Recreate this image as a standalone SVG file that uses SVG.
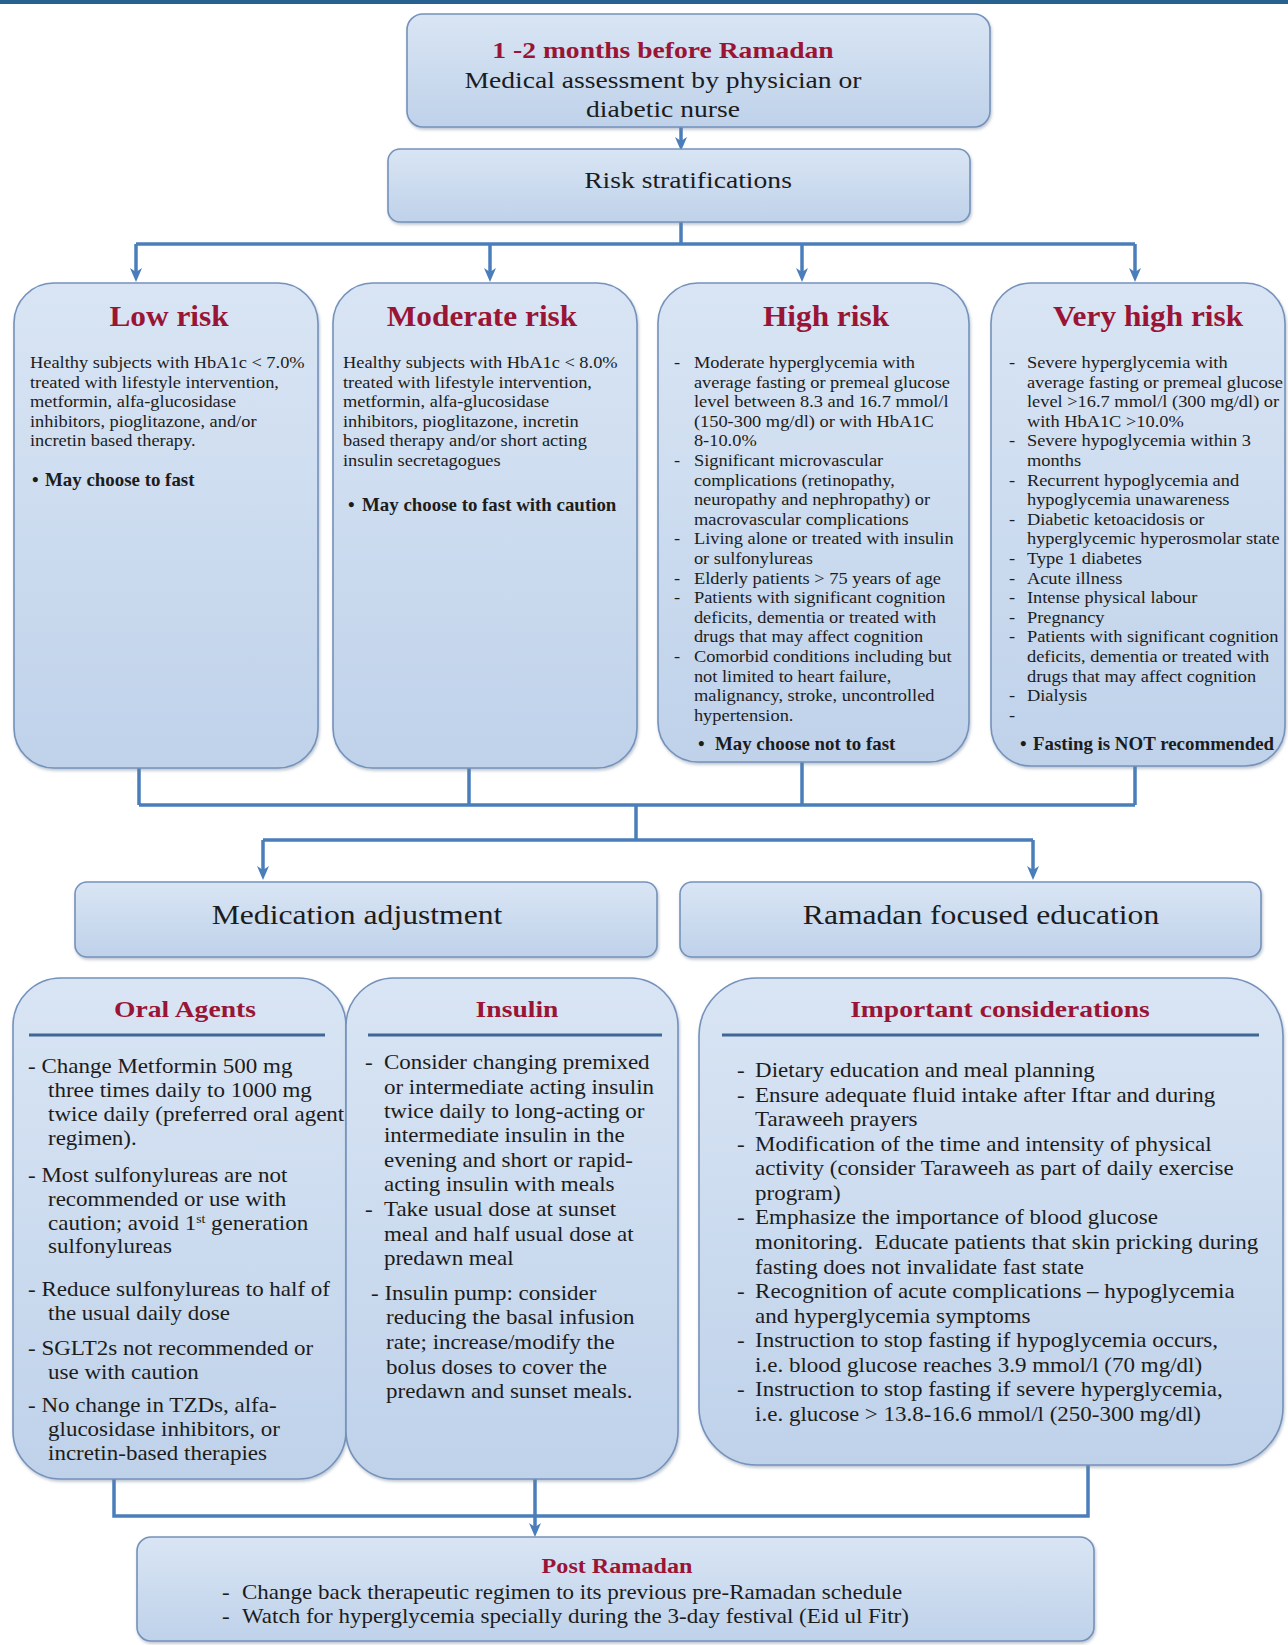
<svg xmlns="http://www.w3.org/2000/svg" width="1288" height="1645" viewBox="0 0 1288 1645">
<defs>
<linearGradient id="g" x1="0" y1="0" x2="0" y2="1">
<stop offset="0" stop-color="#d9e5f4"/>
<stop offset="1" stop-color="#bfd2ea"/>
</linearGradient>
<filter id="sh" x="-5%" y="-5%" width="110%" height="115%">
<feDropShadow dx="1" dy="2" stdDeviation="1.5" flood-color="#6f819c" flood-opacity="0.45"/>
</filter>
<marker id="ah" markerUnits="userSpaceOnUse" markerWidth="14" markerHeight="14" viewBox="0 0 14 14" refX="4" refY="7" orient="auto">
<path d="M0,1 L14,7 L0,13 L4,7 z" fill="#4a7ebb"/>
</marker>
<style>
.box{fill:url(#g);stroke:#7592bb;stroke-width:1.6;filter:url(#sh)}
.t{font-family:"Liberation Serif","Times New Roman",serif;fill:#1c1c1c}
.hd{font-size:24px}
.ttl{font-weight:bold;fill:#9a1535}
.rt{font-size:29px}
.rb{font-size:17.5px}
.rbb{font-size:18px;font-weight:bold}
.lb{font-size:20px}
.lt{font-size:24px}
.mid{font-size:27.5px}
.con{stroke:#4a7ebb;stroke-width:3.5;fill:none}
.ul{stroke:#3e6696;stroke-width:3}
</style>
</defs>
<rect x="0" y="0" width="1288" height="4" fill="#27618f"/>

<g id="connectors">
<path class="con" d="M681,127 V141" marker-end="url(#ah)"/>
<path class="con" d="M681,222 V244"/>
<path class="con" d="M136,244 H1135"/>
<path class="con" d="M136,244 V272" marker-end="url(#ah)"/>
<path class="con" d="M490,244 V272" marker-end="url(#ah)"/>
<path class="con" d="M802,244 V272" marker-end="url(#ah)"/>
<path class="con" d="M1135,244 V272" marker-end="url(#ah)"/>
<path class="con" d="M139,768 V805 M469,768 V805 M802,762 V805 M1135,766 V805 M139,805 H1135 M636,805 V840 M263,840 H1033"/>
<path class="con" d="M263,840 V870" marker-end="url(#ah)"/>
<path class="con" d="M1033,840 V870" marker-end="url(#ah)"/>
<path class="con" d="M114,1479 V1516 H1088 V1465"/>
<path class="con" d="M535,1479 V1527" marker-end="url(#ah)"/>
</g>

<g id="n-assess">
<rect class="box" x="407" y="14" width="583" height="113" rx="16"/>
<g transform="translate(663,0) scale(1.15,1)">
<text class="t hd ttl" x="0" y="58" text-anchor="middle">1 -2 months before Ramadan</text>
<text class="t hd" x="0" y="88" text-anchor="middle">Medical assessment by physician or</text>
<text class="t hd" x="0" y="117" text-anchor="middle">diabetic nurse</text>
</g>
</g>

<g id="n-risk">
<rect class="box" x="388" y="149" width="582" height="73" rx="12"/>
<g transform="translate(688,0) scale(1.15,1)">
<text class="t hd" x="0" y="188" text-anchor="middle">Risk stratifications</text>
</g>
</g>

<g id="n-low">
<rect class="box" x="14" y="283" width="304" height="485" rx="40"/>
<g transform="translate(169,0) scale(1.08,1)"><text class="t rt ttl" x="0" y="326" text-anchor="middle">Low risk</text></g>
<g transform="translate(30,0) scale(1.05,1)">
<text class="t rb" x="0" y="368">Healthy subjects with HbA1c &lt; 7.0%</text>
<text class="t rb" x="0" y="387.6">treated with lifestyle intervention,</text>
<text class="t rb" x="0" y="407.2">metformin, alfa-glucosidase</text>
<text class="t rb" x="0" y="426.8">inhibitors, pioglitazone, and/or</text>
<text class="t rb" x="0" y="446.4">incretin based therapy.</text>
<text class="t rbb" y="486"><tspan x="2">•</tspan><tspan x="14.3">May choose to fast</tspan></text>
</g>
</g>

<g id="n-moderate">
<rect class="box" x="333" y="283" width="304" height="485" rx="40"/>
<g transform="translate(482,0) scale(1.08,1)"><text class="t rt ttl" x="0" y="326" text-anchor="middle">Moderate risk</text></g>
<g transform="translate(343,0) scale(1.05,1)">
<text class="t rb" x="0" y="368">Healthy subjects with HbA1c &lt; 8.0%</text>
<text class="t rb" x="0" y="387.6">treated with lifestyle intervention,</text>
<text class="t rb" x="0" y="407.2">metformin, alfa-glucosidase</text>
<text class="t rb" x="0" y="426.8">inhibitors, pioglitazone, incretin</text>
<text class="t rb" x="0" y="446.4">based therapy and/or short acting</text>
<text class="t rb" x="0" y="466">insulin secretagogues</text>
<text class="t rbb" y="511"><tspan x="4.8">•</tspan><tspan x="18.1">May choose to fast with caution</tspan></text>
</g>
</g>

<g id="n-high">
<rect class="box" x="658" y="283" width="311" height="479" rx="40"/>
<g transform="translate(826,0) scale(1.08,1)"><text class="t rt ttl" x="0" y="326" text-anchor="middle">High risk</text></g>
<g transform="translate(674,0) scale(1.05,1)">
<text class="t rb" x="0" y="368">-</text><text class="t rb" x="19" y="368">Moderate hyperglycemia with</text>
<text class="t rb" x="19" y="387.6">average fasting or premeal glucose</text>
<text class="t rb" x="19" y="407.2">level between 8.3 and 16.7 mmol/l</text>
<text class="t rb" x="19" y="426.8">(150-300 mg/dl) or with HbA1C</text>
<text class="t rb" x="19" y="446.4">8-10.0%</text>
<text class="t rb" x="0" y="466">-</text><text class="t rb" x="19" y="466">Significant microvascular</text>
<text class="t rb" x="19" y="485.6">complications (retinopathy,</text>
<text class="t rb" x="19" y="505.2">neuropathy and nephropathy) or</text>
<text class="t rb" x="19" y="524.8">macrovascular complications</text>
<text class="t rb" x="0" y="544.4">-</text><text class="t rb" x="19" y="544.4">Living alone or treated with insulin</text>
<text class="t rb" x="19" y="564">or sulfonylureas</text>
<text class="t rb" x="0" y="583.6">-</text><text class="t rb" x="19" y="583.6">Elderly patients &gt; 75 years of age</text>
<text class="t rb" x="0" y="603.2">-</text><text class="t rb" x="19" y="603.2">Patients with significant cognition</text>
<text class="t rb" x="19" y="622.8">deficits, dementia or treated with</text>
<text class="t rb" x="19" y="642.4">drugs that may affect cognition</text>
<text class="t rb" x="0" y="662">-</text><text class="t rb" x="19" y="662">Comorbid conditions including but</text>
<text class="t rb" x="19" y="681.6">not limited to heart failure,</text>
<text class="t rb" x="19" y="701.2">malignancy, stroke, uncontrolled</text>
<text class="t rb" x="19" y="720.8">hypertension.</text>
<text class="t rbb" y="750"><tspan x="22.9">•</tspan><tspan x="39">May choose not to fast</tspan></text>
</g>
</g>

<g id="n-veryhigh">
<rect class="box" x="991" y="283" width="294" height="483" rx="40"/>
<g transform="translate(1148,0) scale(1.08,1)"><text class="t rt ttl" x="0" y="326" text-anchor="middle">Very high risk</text></g>
<g transform="translate(1009,0) scale(1.05,1)">
<text class="t rb" x="0" y="368">-</text><text class="t rb" x="17.1" y="368">Severe hyperglycemia with</text>
<text class="t rb" x="17.1" y="387.6">average fasting or premeal glucose</text>
<text class="t rb" x="17.1" y="407.2">level &gt;16.7 mmol/l (300 mg/dl) or</text>
<text class="t rb" x="17.1" y="426.8">with HbA1C &gt;10.0%</text>
<text class="t rb" x="0" y="446.4">-</text><text class="t rb" x="17.1" y="446.4">Severe hypoglycemia within 3</text>
<text class="t rb" x="17.1" y="466">months</text>
<text class="t rb" x="0" y="485.6">-</text><text class="t rb" x="17.1" y="485.6">Recurrent hypoglycemia and</text>
<text class="t rb" x="17.1" y="505.2">hypoglycemia unawareness</text>
<text class="t rb" x="0" y="524.8">-</text><text class="t rb" x="17.1" y="524.8">Diabetic ketoacidosis or</text>
<text class="t rb" x="17.1" y="544.4">hyperglycemic hyperosmolar state</text>
<text class="t rb" x="0" y="564">-</text><text class="t rb" x="17.1" y="564">Type 1 diabetes</text>
<text class="t rb" x="0" y="583.6">-</text><text class="t rb" x="17.1" y="583.6">Acute illness</text>
<text class="t rb" x="0" y="603.2">-</text><text class="t rb" x="17.1" y="603.2">Intense physical labour</text>
<text class="t rb" x="0" y="622.8">-</text><text class="t rb" x="17.1" y="622.8">Pregnancy</text>
<text class="t rb" x="0" y="642.4">-</text><text class="t rb" x="17.1" y="642.4">Patients with significant cognition</text>
<text class="t rb" x="17.1" y="662">deficits, dementia or treated with</text>
<text class="t rb" x="17.1" y="681.6">drugs that may affect cognition</text>
<text class="t rb" x="0" y="701.2">-</text><text class="t rb" x="17.1" y="701.2">Dialysis</text>
<text class="t rb" x="0" y="720.8">-</text>
<text class="t rbb" y="750"><tspan x="10.5">•</tspan><tspan x="22.9">Fasting is NOT recommended</tspan></text>
</g>
</g>

<g id="n-medication">
<rect class="box" x="75" y="882" width="582" height="75" rx="12"/>
<g transform="translate(357,0) scale(1.15,1)"><text class="t mid" x="0" y="924" text-anchor="middle">Medication adjustment</text></g>
</g>

<g id="n-education">
<rect class="box" x="680" y="882" width="581" height="75" rx="12"/>
<g transform="translate(981,0) scale(1.15,1)"><text class="t mid" x="0" y="924" text-anchor="middle">Ramadan focused education</text></g>
</g>

<g id="n-oral">
<rect class="box" x="13" y="978" width="333" height="501" rx="48"/>
<g transform="translate(185,0) scale(1.15,1)"><text class="t lt ttl" x="0" y="1017" text-anchor="middle">Oral Agents</text></g>
<line class="ul" x1="29" y1="1035" x2="325" y2="1035"/>
<g transform="translate(28,0) scale(1.15,1)">
<text class="t lb" x="0" y="1073">- Change Metformin 500 mg</text>
<text class="t lb" x="17.4" y="1097">three times daily to 1000 mg</text>
<text class="t lb" x="17.4" y="1121">twice daily (preferred oral agent</text>
<text class="t lb" x="17.4" y="1145">regimen).</text>
<text class="t lb" x="0" y="1182">- Most sulfonylureas are not</text>
<text class="t lb" x="17.4" y="1206">recommended or use with</text>
<text class="t lb" x="17.4" y="1230">caution; avoid 1<tspan font-size="12" baseline-shift="super">st</tspan> generation</text>
<text class="t lb" x="17.4" y="1253">sulfonylureas</text>
<text class="t lb" x="0" y="1296">- Reduce sulfonylureas to half of</text>
<text class="t lb" x="17.4" y="1320">the usual daily dose</text>
<text class="t lb" x="0" y="1355">- SGLT2s not recommended or</text>
<text class="t lb" x="17.4" y="1379">use with caution</text>
<text class="t lb" x="0" y="1412">- No change in TZDs, alfa-</text>
<text class="t lb" x="17.4" y="1436">glucosidase inhibitors, or</text>
<text class="t lb" x="17.4" y="1460">incretin-based therapies</text>
</g>
</g>

<g id="n-insulin">
<rect class="box" x="346" y="978" width="332" height="501" rx="48"/>
<g transform="translate(517,0) scale(1.15,1)"><text class="t lt ttl" x="0" y="1017" text-anchor="middle">Insulin</text></g>
<line class="ul" x1="368" y1="1035" x2="662" y2="1035"/>
<g transform="translate(365,0) scale(1.15,1)">
<text class="t lb" x="0" y="1069">-</text><text class="t lb" x="16.5" y="1069">Consider changing premixed</text>
<text class="t lb" x="16.5" y="1094">or intermediate acting insulin</text>
<text class="t lb" x="16.5" y="1118">twice daily to long-acting or</text>
<text class="t lb" x="16.5" y="1142">intermediate insulin in the</text>
<text class="t lb" x="16.5" y="1167">evening and short or rapid-</text>
<text class="t lb" x="16.5" y="1191">acting insulin with meals</text>
<text class="t lb" x="0" y="1216">-</text><text class="t lb" x="16.5" y="1216">Take usual dose at sunset</text>
<text class="t lb" x="16.5" y="1241">meal and half usual dose at</text>
<text class="t lb" x="16.5" y="1265">predawn meal</text>
<text class="t lb" x="5.2" y="1300">- Insulin pump: consider</text>
<text class="t lb" x="18.3" y="1324">reducing the basal infusion</text>
<text class="t lb" x="18.3" y="1349">rate; increase/modify the</text>
<text class="t lb" x="18.3" y="1374">bolus doses to cover the</text>
<text class="t lb" x="18.3" y="1398">predawn and sunset meals.</text>
</g>
</g>

<g id="n-considerations">
<rect class="box" x="699" y="978" width="584" height="487" rx="58"/>
<g transform="translate(1000,0) scale(1.15,1)"><text class="t lt ttl" x="0" y="1017" text-anchor="middle">Important considerations</text></g>
<line class="ul" x1="722" y1="1035" x2="1259" y2="1035"/>
<g transform="translate(737,0) scale(1.15,1)">
<text class="t lb" x="0" y="1077">-</text><text class="t lb" x="15.7" y="1077">Dietary education and meal planning</text>
<text class="t lb" x="0" y="1101.6">-</text><text class="t lb" x="15.7" y="1101.6">Ensure adequate fluid intake after Iftar and during</text>
<text class="t lb" x="15.7" y="1126.1">Taraweeh prayers</text>
<text class="t lb" x="0" y="1150.7">-</text><text class="t lb" x="15.7" y="1150.7">Modification of the time and intensity of physical</text>
<text class="t lb" x="15.7" y="1175.3">activity (consider Taraweeh as part of daily exercise</text>
<text class="t lb" x="15.7" y="1199.9">program)</text>
<text class="t lb" x="0" y="1224.4">-</text><text class="t lb" x="15.7" y="1224.4">Emphasize the importance of blood glucose</text>
<text class="t lb" x="15.7" y="1249" xml:space="preserve">monitoring.  Educate patients that skin pricking during</text>
<text class="t lb" x="15.7" y="1273.6">fasting does not invalidate fast state</text>
<text class="t lb" x="0" y="1298.1">-</text><text class="t lb" x="15.7" y="1298.1">Recognition of acute complications – hypoglycemia</text>
<text class="t lb" x="15.7" y="1322.7">and hyperglycemia symptoms</text>
<text class="t lb" x="0" y="1347.3">-</text><text class="t lb" x="15.7" y="1347.3">Instruction to stop fasting if hypoglycemia occurs,</text>
<text class="t lb" x="15.7" y="1371.8">i.e. blood glucose reaches 3.9 mmol/l (70 mg/dl)</text>
<text class="t lb" x="0" y="1396.4">-</text><text class="t lb" x="15.7" y="1396.4">Instruction to stop fasting if severe hyperglycemia,</text>
<text class="t lb" x="15.7" y="1421">i.e. glucose &gt; 13.8-16.6 mmol/l (250-300 mg/dl)</text>
</g>
</g>

<g id="n-post">
<rect class="box" x="137" y="1537" width="957" height="104" rx="14"/>
<g transform="translate(617,0) scale(1.15,1)"><text class="t ttl" style="font-size:21px" x="0" y="1573" text-anchor="middle">Post Ramadan</text></g>
<g transform="translate(222,0) scale(1.15,1)">
<text class="t lb" x="0" y="1599">-</text><text class="t lb" x="17.4" y="1599">Change back therapeutic regimen to its previous pre-Ramadan schedule</text>
<text class="t lb" x="0" y="1623">-</text><text class="t lb" x="17.4" y="1623">Watch for hyperglycemia specially during the 3-day festival (Eid ul Fitr)</text>
</g>
</g>
</svg>
